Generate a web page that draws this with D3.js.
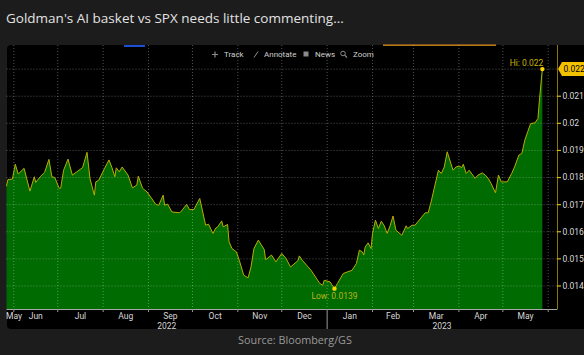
<!DOCTYPE html>
<html><head><meta charset="utf-8">
<script src="https://cdn.jsdelivr.net/npm/d3@7"></script>
<style>
html,body{margin:0;padding:0;background:#1c1c1c;}
svg{display:block;}
</style></head>
<body>
<svg id="chart" width="584" height="355"></svg>
<script>
// ---------- data ----------
const dates = ["2022-05-27","2022-05-28","2022-05-31","2022-06-02","2022-06-04","2022-06-08","2022-06-12","2022-06-15","2022-06-16","2022-06-19","2022-06-22","2022-06-25","2022-06-27","2022-06-29","2022-07-02","2022-07-03","2022-07-05","2022-07-08","2022-07-11","2022-07-18","2022-07-21","2022-07-23","2022-07-26","2022-07-27","2022-07-29","2022-08-02","2022-08-05","2022-08-07","2022-08-09","2022-08-10","2022-08-12","2022-08-14","2022-08-18","2022-08-21","2022-08-24","2022-08-25","2022-08-28","2022-08-31","2022-09-06","2022-09-08","2022-09-11","2022-09-12","2022-09-14","2022-09-17","2022-09-22","2022-09-23","2022-09-27","2022-09-29","2022-10-02","2022-10-06","2022-10-10","2022-10-12","2022-10-15","2022-10-17","2022-10-18","2022-10-21","2022-10-22","2022-10-25","2022-10-26","2022-10-28","2022-10-31","2022-11-02","2022-11-05","2022-11-08","2022-11-10","2022-11-12","2022-11-15","2022-11-19","2022-11-20","2022-11-24","2022-11-27","2022-12-01","2022-12-04","2022-12-07","2022-12-12","2022-12-13","2022-12-15","2022-12-21","2022-12-27","2022-12-29","2022-12-30","2023-01-03","2023-01-06","2023-01-08","2023-01-12","2023-01-18","2023-01-21","2023-01-23","2023-01-25","2023-01-26","2023-01-27","2023-01-29","2023-01-31","2023-02-01","2023-02-03","2023-02-05","2023-02-07","2023-02-09","2023-02-11","2023-02-13","2023-02-15","2023-02-17","2023-02-21","2023-02-24","2023-02-25","2023-02-28","2023-03-02","2023-03-09","2023-03-11","2023-03-13","2023-03-18","2023-03-20","2023-03-22","2023-03-24","2023-03-28","2023-03-30","2023-04-01","2023-04-03","2023-04-04","2023-04-06","2023-04-08","2023-04-11","2023-04-12","2023-04-14","2023-04-17","2023-04-19","2023-04-21","2023-04-23","2023-04-26","2023-04-28","2023-04-30","2023-05-04","2023-05-07","2023-05-09","2023-05-12","2023-05-14","2023-05-16","2023-05-18","2023-05-20","2023-05-23","2023-05-25","2023-05-26","2023-05-28"];
const values = [0.01768,0.01793,0.01794,0.01849,0.01813,0.01834,0.01750,0.01803,0.01782,0.01803,0.01819,0.01867,0.01803,0.01800,0.01760,0.01761,0.01827,0.01868,0.01809,0.01837,0.01893,0.01797,0.01735,0.01784,0.01790,0.01834,0.01865,0.01837,0.01803,0.01836,0.01821,0.01839,0.01809,0.01762,0.01772,0.01805,0.01760,0.01747,0.01701,0.01698,0.01735,0.01698,0.01702,0.01673,0.01670,0.01673,0.01701,0.01682,0.01682,0.01723,0.01624,0.01628,0.01594,0.01614,0.01616,0.01640,0.01618,0.01627,0.01563,0.01538,0.01526,0.01495,0.01440,0.01430,0.01470,0.01538,0.01569,0.01535,0.01497,0.01514,0.01489,0.01520,0.01501,0.01470,0.01493,0.01511,0.01495,0.01458,0.01409,0.01403,0.01421,0.01415,0.01390,0.01409,0.01446,0.01458,0.01483,0.01532,0.01526,0.01514,0.01544,0.01559,0.01538,0.01594,0.01643,0.01612,0.01639,0.01622,0.01594,0.01622,0.01658,0.01606,0.01587,0.01622,0.01612,0.01624,0.01624,0.01670,0.01670,0.01710,0.01827,0.01815,0.01839,0.01895,0.01827,0.01839,0.01842,0.01837,0.01849,0.01815,0.01827,0.01805,0.01797,0.01809,0.01817,0.01809,0.01797,0.01778,0.01744,0.01809,0.01784,0.01784,0.01815,0.01839,0.01883,0.01889,0.01938,0.01969,0.01999,0.02002,0.02018,0.02086,0.02200];
const yTicks = [0.014,0.015,0.016,0.017,0.018,0.019,0.020,0.021];
const monthLabels = ["May","Jun","Jul","Aug","Sep","Oct","Nov","Dec","Jan","Feb","Mar","Apr","May"];
const yearLabels = ["2022","2023"];
const hiValue = 0.022, lowValue = 0.0139;
const titleText = "Goldman's AI basket vs SPX needs little commenting...";
const sourceText = "Source: Bloomberg/GS";
const toolbarItems = ["Track","Annotate","News","Zoom"];

// ---------- setup ----------
const parse = d3.timeParse("%Y-%m-%d");
const data = dates.map((d,i)=>({date:parse(d), value:values[i]}));
const svg = d3.select("#chart");
const L = 6.5, R = 557, T = 45, B = 309;

const x = d3.scaleTime().domain([parse("2022-05-27"), parse("2023-06-07")]).range([L, R]);
const y = d3.scaleLinear().domain([0.01315, 0.02289]).range([B, T]);

// title
const title = svg.append("text").attr("x",6).attr("y",23)
  .attr("fill","#e2e2e2").attr("font-family","'Open Sans', sans-serif").attr("font-size",15)
  .text(titleText);
const tl = title.node().getComputedTextLength();
title.attr("font-size", 15*338/tl);

// panel
svg.append("rect").attr("x",7).attr("y",T).attr("width",584-7+6).attr("height",329-T).attr("rx",4).attr("fill","#000");

// blue & orange bars at top
svg.append("rect").attr("x",124).attr("y",T).attr("width",21).attr("height",2).attr("fill","#1a4fd6");
svg.append("rect").attr("x",383).attr("y",T-0.5).attr("width",113).attr("height",1.3).attr("fill","#e0901a");

// area
const area = d3.area().x(d=>x(d.date)).y0(B).y1(d=>y(d.value)).curve(d3.curveLinear);
svg.append("path").datum(data).attr("d",area).attr("fill","#006b00");

// grid
const monthStarts = d3.timeMonth.range(parse("2022-06-01"), parse("2023-06-02"));
svg.append("g").selectAll("line").data(monthStarts).join("line")
  .attr("x1",d=>x(d)).attr("x2",d=>x(d)).attr("y1",T).attr("y2",B)
  .attr("stroke","rgba(255,255,255,0.32)").attr("stroke-dasharray","1,2");
svg.append("g").selectAll("line").data(yTicks.concat([hiValue])).join("line")
  .attr("x1",L).attr("x2",R).attr("y1",d=>y(d)).attr("y2",d=>y(d))
  .attr("stroke","rgba(255,255,255,0.32)").attr("stroke-dasharray","1,2");

// line
const line = d3.line().x(d=>x(d.date)).y(d=>y(d.value));
svg.append("path").datum(data).attr("d",line).attr("fill","none").attr("stroke","#b9ad00").attr("stroke-width",1);

// x axis line
svg.append("line").attr("x1",L).attr("x2",R).attr("y1",B+0.5).attr("y2",B+0.5).attr("stroke","#a8a8a8").attr("stroke-width",1);
// x ticks
svg.append("g").selectAll("line").data(monthStarts).join("line")
  .attr("x1",d=>x(d)).attr("x2",d=>x(d)).attr("y1",B).attr("y2",d=>d.getMonth()===0?329:B+3)
  .attr("stroke","#9a9a9a").attr("stroke-width",1);

// month labels
const monthsAll = d3.timeMonth.range(parse("2022-05-01"), parse("2023-06-01"));
const [d0,d1] = x.domain();
svg.append("g").selectAll("text").data(monthsAll).join("text")
  .attr("x",(d,i)=>{
    const s = d < d0 ? d0 : d;
    const e0 = d3.timeMonth.offset(d,1);
    const e = e0 > d1 ? d1 : e0;
    return Math.max((x(s)+x(e))/2, L+7.5);
  })
  .attr("y",319).attr("text-anchor","middle")
  .attr("fill","#d8d8d8").attr("font-family","Roboto, sans-serif").attr("font-size",8.5)
  .text((d,i)=>monthLabels[i]);

// year labels
const yearSpans = [[d0, parse("2023-01-01")],[parse("2023-01-01"), d1]];
svg.append("g").selectAll("text").data(yearSpans).join("text")
  .attr("x",d=>(x(d[0])+x(d[1]))/2).attr("y",329).attr("text-anchor","middle")
  .attr("fill","#d8d8d8").attr("font-family","Roboto, sans-serif").attr("font-size",8.5)
  .text((d,i)=>yearLabels[i]);

// y axis
svg.append("line").attr("x1",R+0.5).attr("x2",R+0.5).attr("y1",T).attr("y2",B+0.5).attr("stroke","#8a7600").attr("stroke-width",1);
const fmt = d3.format(".3~f");
const yt = svg.append("g").selectAll("g").data(yTicks).join("g").attr("transform",d=>`translate(${R},${y(d)})`);
yt.append("line").attr("x1",0).attr("x2",4).attr("stroke","#e0b400").attr("stroke-width",1.2);
yt.append("text").attr("x",5.5).attr("dy","0.34em").attr("fill","#dcdcdc")
  .attr("font-family","Roboto, sans-serif").attr("font-size",8.5).text(d=>fmt(d));

// hi value box
const hy = y(hiValue);
svg.append("path").attr("d",`M${R+1},${hy} L${R+5},${hy-7} L584,${hy-7} L584,${hy+7} L${R+5},${hy+7} Z`).attr("fill","#f2c200");
svg.append("text").attr("x",R+6.5).attr("y",hy).attr("dy","0.35em").attr("fill","#000")
  .attr("font-family","Roboto, sans-serif").attr("font-size",8.5).text(fmt(hiValue));

// hi / low markers
const hiPt = data[d3.maxIndex(data,d=>d.value)];
const loPt = data[d3.minIndex(data,d=>d.value)];
svg.append("circle").attr("cx",x(hiPt.date)).attr("cy",y(hiPt.value)).attr("r",2.2).attr("fill","#ffd400");
svg.append("circle").attr("cx",x(loPt.date)).attr("cy",y(loPt.value)).attr("r",2.2).attr("fill","#ffd400");
svg.append("text").attr("x",x(hiPt.date)+1).attr("y",y(hiPt.value)-3.5).attr("text-anchor","end")
  .attr("fill","#c9b200").attr("font-family","Roboto, sans-serif").attr("font-size",8.5).text("Hi: " + fmt(hiValue));
svg.append("text").attr("x",x(loPt.date)).attr("y",y(loPt.value)+10).attr("text-anchor","middle")
  .attr("fill","#b9b51c").attr("font-family","Roboto, sans-serif").attr("font-size",8.5).text("Low: " + lowValue);

// toolbar
const tb = svg.append("g").attr("font-family","Roboto, sans-serif").attr("font-size",8).attr("fill","#cfcfcf");
const tbX = [224,264,315,353];
tb.selectAll("text").data(toolbarItems).join("text").attr("x",(d,i)=>tbX[i]).attr("y",56.5).text(d=>d);
// icons
tb.append("path").attr("d","M215,51.5 v6 M212,54.5 h6").attr("stroke","#8a8a8a").attr("stroke-width",1.2);
tb.append("path").attr("d","M254,57.5 L258,51.5").attr("stroke","#8a8a8a").attr("stroke-width",1);
tb.append("rect").attr("x",303.5).attr("y",51.5).attr("width",5).attr("height",5).attr("fill","#8a8a8a");
tb.append("circle").attr("cx",343).attr("cy",53.5).attr("r",2.3).attr("fill","none").attr("stroke","#8a8a8a");
tb.append("path").attr("d","M344.7,55.2 L347,57.5").attr("stroke","#8a8a8a").attr("stroke-width",1.2);

// source
const src = svg.append("text").attr("x",295).attr("y",344).attr("text-anchor","middle")
  .attr("fill","#9a9a9a").attr("font-family","'Open Sans', sans-serif").attr("font-size",11).text(sourceText);
const sl = src.node().getComputedTextLength();
src.attr("font-size", 11*114/sl);
</script>
</body></html>
